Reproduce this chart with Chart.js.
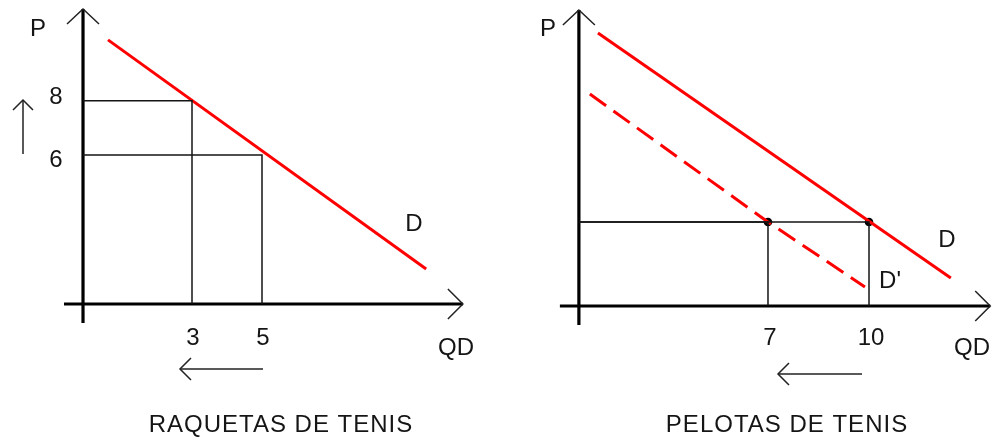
<!DOCTYPE html>
<html><head><meta charset="utf-8">
<script src="https://cdn.jsdelivr.net/npm/chart.js@4/dist/chart.umd.min.js"></script>
<style>html,body{margin:0;padding:0;background:#fff;}canvas{display:block;}</style>
</head><body>
<canvas id="c" width="992" height="441"></canvas>
<script>
// ---------- DATA ----------
const panelTitles = ['RAQUETAS DE TENIS', 'PELOTAS DE TENIS'];
const axisTitleY = 'P';
const axisTitleX = 'QD';

// Left panel: tennis rackets (price rises 6 -> 8, quantity falls 5 -> 3)
const leftQty = [3, 5];
const leftPrice = [8, 6];
const leftQtyLabels = ['3', '5'];
const leftPriceLabels = ['8', '6'];
const leftDemand = [{x: 0.6, y: 10.24}, {x: 9.69, y: 1.80}];
const leftCurveLabel = 'D';

// Right panel: tennis balls (demand shifts left, 10 -> 7)
const rightQty = [7, 10];
const rightPrice = [3, 3];
const rightQtyLabels = ['7', '10'];
const rightDemand = [{x: 1.95, y: 9.75}, {x: 12.43, y: 1.0}];
const rightDemandShifted = [{x: 1.71, y: 7.57}, {x: 7, y: 3}, {x: 9.88, y: 0.68}];
const rightCurveLabels = ['D', "D'"];

// axis origins (value where each pair of axes crosses)
const originL = {q: -0.114, p: 0.512};
const originR = {q: 1.384, p: 0};

// ---------- BUILD ----------
const RED = '#ff0000';
const INK = '#151515';
const FONT = '24px "Liberation Sans", Arial, sans-serif';

function guide(q, p, o) {
  return [{x: o.q, y: p}, {x: q, y: p}, {x: q, y: o.p}];
}
const base = {showLine: true, pointRadius: 0, fill: false, clip: false, tension: 0};
const datasets = [];
leftQty.forEach((q, i) => datasets.push(Object.assign({}, base, {
  data: guide(q, leftPrice[i], originL), borderColor: INK, borderWidth: 1.5, xAxisID: 'xL', yAxisID: 'yL'})));
rightQty.forEach((q, i) => datasets.push(Object.assign({}, base, {
  data: guide(q, rightPrice[i], originR), borderColor: INK, borderWidth: 1.5, xAxisID: 'xR', yAxisID: 'yR'})));
datasets.push(Object.assign({}, base, {data: leftDemand, borderColor: RED, borderWidth: 3, xAxisID: 'xL', yAxisID: 'yL'}));
datasets.push(Object.assign({}, base, {data: rightDemand, borderColor: RED, borderWidth: 3, xAxisID: 'xR', yAxisID: 'yR'}));
datasets.push(Object.assign({}, base, {data: rightDemandShifted, borderColor: RED, borderWidth: 3, borderDash: [20, 9], xAxisID: 'xR', yAxisID: 'yR'}));
datasets.push(Object.assign({}, base, {showLine: false,
  data: rightQty.map((q, i) => ({x: q, y: rightPrice[i]})),
  pointRadius: 4.3, pointBackgroundColor: '#000', pointBorderWidth: 0, xAxisID: 'xR', yAxisID: 'yR'}));

function line(ctx, pts, w) {
  ctx.beginPath(); ctx.lineWidth = w;
  ctx.moveTo(pts[0][0], pts[0][1]);
  for (let i = 1; i < pts.length; i++) ctx.lineTo(pts[i][0], pts[i][1]);
  ctx.stroke();
}
function text(ctx, s, x, y, ls) {
  ctx.letterSpacing = ls || '0px';
  ctx.fillText(s, x, y);
}

const decor = {
  id: 'decor',
  beforeDatasetsDraw(chart) {
    const ctx = chart.ctx, s = chart.scales;
    ctx.save();
    ctx.strokeStyle = '#000'; ctx.lineCap = 'butt';
    [[s.xL, s.yL, originL, 11.38, 10.74], [s.xR, s.yR, originR, 10.57, 13.6]].forEach(([xs, ys, o, pTop, qEnd]) => {
      const ox = xs.getPixelForValue(o.q), oy = ys.getPixelForValue(o.p);
      const ty = ys.getPixelForValue(pTop), tx = xs.getPixelForValue(qEnd);
      line(ctx, [[ox, oy + 19], [ox, ty]], 3.2);
      line(ctx, [[ox - 19, oy], [tx, oy]], 3.2);
      ctx.strokeStyle = '#222';
      line(ctx, [[ox - 16, ty + 15], [ox, ty], [ox + 16, ty + 15]], 1.5);
      line(ctx, [[tx - 15, oy - 15], [tx, oy], [tx - 15, oy + 15]], 1.5);
      ctx.strokeStyle = '#000';
    });
    ctx.restore();
  },
  afterDatasetsDraw(chart) {
    const ctx = chart.ctx, s = chart.scales;
    ctx.save();
    ctx.fillStyle = INK; ctx.font = FONT;
    ctx.textAlign = 'center'; ctx.textBaseline = 'middle';
    // axis titles
    text(ctx, axisTitleY, 38, 29);
    text(ctx, axisTitleY, 548, 29);
    text(ctx, axisTitleX, 456, 348);
    text(ctx, axisTitleX, 972, 348);
    // tick-like labels
    leftQtyLabels.forEach((l, i) => text(ctx, l, s.xL.getPixelForValue(leftQty[i]) + 1, 338));
    rightQtyLabels.forEach((l, i) => text(ctx, l, s.xR.getPixelForValue(rightQty[i]) + 2, 338));
    const yOff = [-3, 5];
    leftPriceLabels.forEach((l, i) => text(ctx, l, 56, s.yL.getPixelForValue(leftPrice[i]) + yOff[i]));
    // curve labels
    text(ctx, leftCurveLabel, 414, 224);
    text(ctx, rightCurveLabels[0], 947, 240);
    text(ctx, rightCurveLabels[1], 890, 281);
    // titles
    text(ctx, panelTitles[0], 281, 425, '1px');
    text(ctx, panelTitles[1], 787, 425, '1px');
    // movement arrows
    ctx.strokeStyle = '#222';
    line(ctx, [[23, 154], [23, 100]], 1.5);
    line(ctx, [[13, 110], [23, 100], [33, 110]], 1.5);
    line(ctx, [[263, 369], [180, 369]], 1.5);
    line(ctx, [[191, 358], [180, 369], [191, 380]], 1.5);
    line(ctx, [[862, 374], [778, 374]], 1.5);
    line(ctx, [[789, 363], [778, 374], [789, 385]], 1.5);
    ctx.restore();
  }
};

new Chart(document.getElementById('c'), {
  type: 'scatter',
  data: {datasets},
  options: {
    responsive: false, animation: false, events: [],
    layout: {padding: 0, autoPadding: false},
    plugins: {legend: {display: false}, tooltip: {enabled: false}, title: {display: false}},
    scales: {
      xL: {type: 'linear', display: false, min: -2.4857, max: 25.857},
      yL: {type: 'linear', display: false, min: -4.534, max: 11.709},
      xR: {type: 'linear', display: false, min: -15.809, max: 13.653},
      yR: {type: 'linear', display: false, min: -4.821, max: 10.929}
    }
  },
  plugins: [decor]
});
</script>
</body></html>
